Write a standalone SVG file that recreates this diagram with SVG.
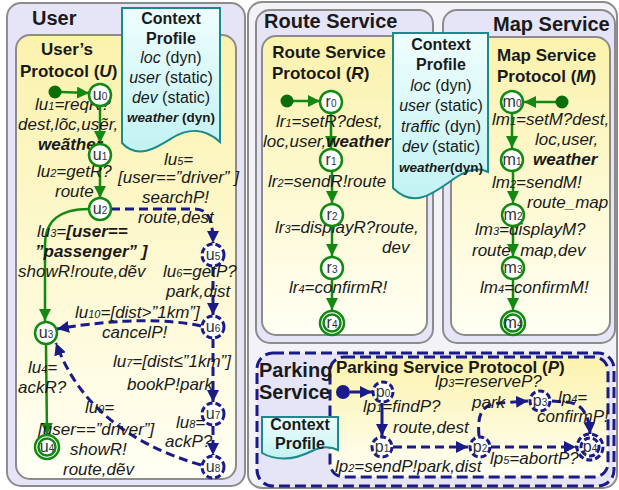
<svg xmlns="http://www.w3.org/2000/svg" width="619" height="490" viewBox="0 0 619 490">
  <defs>
    <linearGradient id="yel" x1="0" y1="0" x2="0" y2="1">
      <stop offset="0" stop-color="#fbf2ac"/>
      <stop offset="1" stop-color="#fffff4"/>
    </linearGradient>
    <linearGradient id="cyan" x1="0" y1="0" x2="0" y2="1">
      <stop offset="0" stop-color="#effefe"/>
      <stop offset="1" stop-color="#c2f2f2"/>
    </linearGradient>
    <marker id="ag" markerUnits="userSpaceOnUse" markerWidth="12" markerHeight="12" refX="12" refY="6" orient="auto">
      <path d="M0,0 L12,6 L0,12 Z" fill="#128a12"/>
    </marker>
    <marker id="ab" markerUnits="userSpaceOnUse" markerWidth="12" markerHeight="12" refX="12" refY="6" orient="auto">
      <path d="M0,0 L12,6 L0,12 Z" fill="#1a1a8a"/>
    </marker>
    <style>
      text { font-family: "Liberation Sans", Arial, sans-serif; fill: #1a1a1a; }
      .title { font-size: 20px; font-weight: bold; }
      .ptitle { font-size: 17px; font-weight: bold; }
      .lbl { font-size: 17px; font-style: italic; }
      .sub { font-size: 11px; }
      .b { font-weight: bold; }
      .cp { font-size: 16px; text-anchor: middle; }
      .cpw { font-size: 13.5px; font-weight: bold; }
      .nt { font-size: 16px; text-anchor: middle; fill: #333; }
      .nt tspan { font-size: 10px; }
      .outer { fill: #e5e5f7; stroke: #8c8c8c; stroke-width: 2; }
      .inner { fill: url(#yel); stroke: #8c8c8c; stroke-width: 2; }
      .doc { fill: url(#cyan); stroke: #1b8a8a; stroke-width: 2; }
      .gn { fill: #fff; stroke: #128a12; stroke-width: 2.5; }
      .bn { fill: #fff; stroke: #1a1a8a; stroke-width: 3; stroke-dasharray: 6 3; }
      .ge { fill: none; stroke: #128a12; stroke-width: 2.5; marker-end: url(#ag); }
      .be { fill: none; stroke: #1a1a8a; stroke-width: 3; stroke-dasharray: 9 5; marker-end: url(#ab); }
      .bs { fill: none; stroke: #1a1a8a; stroke-width: 3; marker-end: url(#ab); }
      .bdash { stroke: #1a1a8a; stroke-width: 3; stroke-dasharray: 11 5; }
    </style>
  </defs>

  <rect width="619" height="490" fill="#ffffff"/>

  <!-- panels -->
  <g id="user-panel">
    <rect class="outer" x="7" y="3" width="238" height="483" rx="14"/>
    <rect class="inner" x="16" y="35" width="220" height="444" rx="14"/>
    <text class="title" x="32" y="25">User</text>
    <text class="ptitle" x="67" y="55" text-anchor="middle">User’s</text>
    <text class="ptitle" x="20" y="77">Protocol  (<tspan font-style="italic">U</tspan>)</text>
  </g>

  <rect x="248" y="2" width="369" height="486" rx="14" fill="#f3f3f7" stroke="#8c8c8c" stroke-width="2"/>

  <g id="route-panel">
    <rect class="outer" x="256" y="10" width="177" height="333" rx="14"/>
    <rect class="inner" x="262" y="36" width="165" height="299" rx="14"/>
    <text class="title" x="264" y="28">Route Service</text>
    <text class="ptitle" x="329" y="58" text-anchor="middle">Route Service</text>
    <text class="ptitle" x="272" y="79">Protocol  (<tspan font-style="italic">R</tspan>)</text>
  </g>

  <g id="map-panel">
    <rect class="outer" x="443" y="10" width="172" height="333" rx="14"/>
    <rect class="inner" x="451" y="37" width="159" height="298" rx="14"/>
    <text class="title" x="493" y="31">Map Service</text>
    <text class="ptitle" x="497" y="61">Map Service</text>
    <text class="ptitle" x="497" y="82">Protocol  (<tspan font-style="italic">M</tspan>)</text>
  </g>

  <g id="parking-panel">
    <rect class="bdash" x="257" y="353" width="357" height="133" rx="16" fill="#e5e5f7"/>
    <rect class="bdash" x="330" y="357" width="278" height="120" rx="14" fill="url(#yel)"/>
    <text class="title" x="259" y="377" font-size="18.5">Parking</text>
    <text class="title" x="259" y="399" font-size="18.5">Service</text>
    <text class="ptitle" x="336" y="373">Parking Service Protocol  (<tspan font-style="italic">P</tspan>)</text>
  </g>

  <!-- context profiles -->
  <g id="user-context">
    <path class="doc" d="M122,8 H220 V142 C205,128 188,128 172,138 C156,148 138,160 122,143 Z"/>
    <text class="cp b" x="171" y="24">Context</text>
    <text class="cp b" x="171" y="44">Profile</text>
    <text class="cp" x="171" y="63"><tspan font-style="italic">loc</tspan> (dyn)</text>
    <text class="cp" x="171" y="83"><tspan font-style="italic">user</tspan> (static)</text>
    <text class="cp" x="171" y="103"><tspan font-style="italic">dev</tspan> (static)</text>
    <text class="cpw" x="171" y="122" text-anchor="middle"><tspan font-style="italic">weather</tspan> (dyn)</text>
  </g>

  <g id="parking-context">
    <path class="doc" d="M262,417 H338 V450 C330,446 322,446 312,451 C298,458 280,463 262,453 Z"/>
    <text class="cp b" x="300" y="430">Context</text>
    <text class="cp b" x="300" y="449">Profile</text>
  </g>

  <!-- connectors -->
  <g id="connectors">
    <!-- user -->
    <path class="ge" d="M61,92 L89,93"/>
    <path class="ge" d="M100,106 L100,143"/>
    <path class="ge" d="M100,166 L100,198"/>
    <path class="ge" d="M89,209 C60,209 45,220 45,245 L45,321"/>
    <path class="ge" d="M46,345 L47,435"/>
    <path class="be" d="M111,209 L195,209 C208,209 213,220 213,243"/>
    <path class="be" d="M213,267 L213,315"/>
    <path class="be" d="M201,326 C170,319 120,318 57,329"/>
    <path class="be" d="M213,339 L213,402"/>
    <path class="be" d="M213,426 L213,455"/>
    <path class="be" d="M201,465 Q88,432 56,343"/>
    <!-- route -->
    <path class="ge" d="M293,101 L320,101"/>
    <path class="ge" d="M331,113 L331,148"/>
    <path class="ge" d="M332,171 L332,203"/>
    <path class="ge" d="M332,227 L332,256"/>
    <path class="ge" d="M332,280 L332,310"/>
    <!-- map -->
    <path class="ge" d="M556,102 L524,102"/>
    <path class="ge" d="M512,114 L512,148"/>
    <path class="ge" d="M513,172 L513,203"/>
    <path class="ge" d="M513,227 L513,256"/>
    <path class="ge" d="M513,280 L513,310"/>
    <!-- parking -->
    <path class="bs" d="M350,392 L372,392"/>
    <path class="bs" d="M382,403 L382,436"/>
    <path class="be" d="M393,447 L468,447"/>
    <path class="be" d="M479,436 C477,414 482,404 500,403 L528,401"/>
    <path class="be" d="M552,401 L566,402 C582,403 589,414 590,434"/>
    <path class="be" d="M491,447 L576,447"/>
  </g>

  <!-- labels -->
  <g id="labels">
    <text class="lbl" x="35" y="110">l<tspan>u</tspan><tspan class="sub">1</tspan>=reqR?</text>
    <text class="lbl" x="18" y="130">dest,lõc,usẽr,</text>
    <text class="lbl b" x="38" y="150">weãther</text>
    <text class="lbl" x="37" y="177">lu<tspan class="sub">2</tspan>=getR?</text>
    <text class="lbl" x="55" y="197">route</text>
    <text class="lbl" x="37" y="237">lu<tspan class="sub">3</tspan>=<tspan class="b">[user==</tspan></text>
    <text class="lbl b" x="35" y="257">”passenger” ]</text>
    <text class="lbl" x="18" y="277">showR!route,dẽv</text>
    <text class="lbl" x="164" y="165">lu<tspan class="sub">5</tspan>=</text>
    <text class="lbl" x="118" y="183">[user==”driver” ]</text>
    <text class="lbl" x="142" y="203">searchP!</text>
    <text class="lbl" x="138" y="223">route,dest</text>
    <text class="lbl" x="163" y="277">lu<tspan class="sub">6</tspan>=getP?</text>
    <text class="lbl" x="166" y="297">park,dist</text>
    <text class="lbl" x="75" y="318">lu<tspan class="sub">10</tspan>=[dist&gt;”1km”]</text>
    <text class="lbl" x="102" y="338">cancelP!</text>
    <text class="lbl" x="113" y="367">lu<tspan class="sub">7</tspan>=[dist≤”1km”]</text>
    <text class="lbl" x="127" y="390">bookP!park</text>
    <text class="lbl" x="28" y="373">lu<tspan class="sub">4</tspan>=</text>
    <text class="lbl" x="18" y="393">ackR?</text>
    <text class="lbl" x="85" y="413">lu<tspan class="sub">9</tspan>=</text>
    <text class="lbl" x="38" y="435">[user==”driver”]</text>
    <text class="lbl" x="70" y="455">showR!</text>
    <text class="lbl" x="63" y="475">route,dẽv</text>
    <text class="lbl" x="176" y="428">lu<tspan class="sub">8</tspan>=</text>
    <text class="lbl" x="165" y="447">ackP?</text>

    <text class="lbl" x="276" y="127">lr<tspan class="sub">1</tspan>=setR?dest,</text>
    <text class="lbl" x="263" y="147">loc,user,<tspan class="b">weather</tspan></text>
    <text class="lbl" x="268" y="187">lr<tspan class="sub">2</tspan>=sendR!route</text>
    <text class="lbl" x="275" y="233">lr<tspan class="sub">3</tspan>=displayR?route,</text>
    <text class="lbl" x="382" y="253">dev</text>
    <text class="lbl" x="289" y="293">lr<tspan class="sub">4</tspan>=confirmR!</text>

    <text class="lbl" x="492" y="125">lm<tspan class="sub">1</tspan>=setM?dest,</text>
    <text class="lbl" x="535" y="145">loc,user,</text>
    <text class="lbl b" x="533" y="165">weather</text>
    <text class="lbl" x="492" y="188">lm<tspan class="sub">2</tspan>=sendM!</text>
    <text class="lbl" x="527" y="208">route_map</text>
    <text class="lbl" x="475" y="235">lm<tspan class="sub">3</tspan>=displayM?</text>
    <text class="lbl" x="472" y="256">route_map,dev</text>
    <text class="lbl" x="480" y="293">lm<tspan class="sub">4</tspan>=confirmM!</text>

    <text class="lbl" x="363" y="412">lp<tspan class="sub">1</tspan>=findP?</text>
    <text class="lbl" x="393" y="433">route,dest</text>
    <text class="lbl" x="335" y="472">lp<tspan class="sub">2</tspan>=sendP!park,dist</text>
    <text class="lbl" x="435" y="387">lp<tspan class="sub">3</tspan>=reserveP?</text>
    <text class="lbl" x="472" y="408">park</text>
    <text class="lbl" x="558" y="403">lp<tspan class="sub">4</tspan>=</text>
    <text class="lbl" x="537" y="422">confirmP!</text>
    <text class="lbl" x="490" y="464">lp<tspan class="sub">5</tspan>=abortP?</text>
  </g>

  <!-- route context profile sits over both service panels -->
  <g id="route-context">
    <path class="doc" d="M393,33 H488 V172 C480,168 470,168 455,178 C435,192 415,210 393,188 Z"/>
    <text class="cp b" x="441" y="50">Context</text>
    <text class="cp b" x="441" y="70">Profile</text>
    <text class="cp" x="441" y="91"><tspan font-style="italic">loc</tspan> (dyn)</text>
    <text class="cp" x="441" y="111"><tspan font-style="italic">user</tspan> (static)</text>
    <text class="cp" x="441" y="132"><tspan font-style="italic">traffic</tspan> (dyn)</text>
    <text class="cp" x="441" y="152"><tspan font-style="italic">dev</tspan> (static)</text>
    <text class="cpw" x="441" y="172" text-anchor="middle"><tspan font-style="italic">weather</tspan>(dyn)</text>
  </g>

  <!-- user protocol states -->
  <circle id="u-start" cx="55" cy="92" r="6.5" fill="#0a6e0a"/>
  <g id="u0"><circle class="gn" cx="100" cy="95" r="11"/><text class="nt" x="100" y="100">u<tspan>0</tspan></text></g>
  <g id="u1"><circle class="gn" cx="100" cy="155" r="11"/><text class="nt" x="100" y="160">u<tspan>1</tspan></text></g>
  <g id="u2"><circle class="gn" cx="100" cy="209" r="11"/><text class="nt" x="100" y="214">u<tspan>2</tspan></text></g>
  <g id="u3"><circle class="gn" cx="46" cy="333" r="11"/><text class="nt" x="46" y="338">u<tspan>3</tspan></text></g>
  <g id="u4"><circle class="gn" cx="47" cy="447" r="12"/><circle class="gn" cx="47" cy="447" r="8.5" stroke-width="2"/><text class="nt" x="47" y="452">u<tspan>4</tspan></text></g>
  <g id="u5"><circle class="bn" cx="213" cy="255" r="11"/><text class="nt" x="213" y="260">u<tspan>5</tspan></text></g>
  <g id="u6"><circle class="bn" cx="213" cy="327" r="11"/><text class="nt" x="213" y="332">u<tspan>6</tspan></text></g>
  <g id="u7"><circle class="bn" cx="213" cy="414" r="11"/><text class="nt" x="213" y="419">u<tspan>7</tspan></text></g>
  <g id="u8"><circle class="bn" cx="213" cy="467" r="11"/><text class="nt" x="213" y="472">u<tspan>8</tspan></text></g>

  <!-- route protocol states -->
  <circle id="r-start" cx="287" cy="101" r="6.5" fill="#0a6e0a"/>
  <g id="r0"><circle class="gn" cx="331" cy="102" r="11"/><text class="nt" x="331" y="107">r<tspan>0</tspan></text></g>
  <g id="r1"><circle class="gn" cx="331" cy="160" r="11"/><text class="nt" x="331" y="165">r<tspan>1</tspan></text></g>
  <g id="r2"><circle class="gn" cx="332" cy="215" r="11"/><text class="nt" x="332" y="220">r<tspan>2</tspan></text></g>
  <g id="r3"><circle class="gn" cx="332" cy="268" r="11"/><text class="nt" x="332" y="273">r<tspan>3</tspan></text></g>
  <g id="r4"><circle class="gn" cx="332" cy="323" r="12"/><circle class="gn" cx="332" cy="323" r="8.5" stroke-width="2"/><text class="nt" x="332" y="328">r<tspan>4</tspan></text></g>

  <!-- map protocol states -->
  <circle id="m-start" cx="562" cy="102" r="6.5" fill="#0a6e0a"/>
  <g id="m0"><circle class="gn" cx="512" cy="102" r="11"/><text class="nt" x="512" y="107">m<tspan>0</tspan></text></g>
  <g id="m1"><circle class="gn" cx="512" cy="160" r="11"/><text class="nt" x="512" y="165">m<tspan>1</tspan></text></g>
  <g id="m2"><circle class="gn" cx="513" cy="215" r="11"/><text class="nt" x="513" y="220">m<tspan>2</tspan></text></g>
  <g id="m3"><circle class="gn" cx="513" cy="268" r="11"/><text class="nt" x="513" y="273">m<tspan>3</tspan></text></g>
  <g id="m4"><circle class="gn" cx="513" cy="323" r="12"/><circle class="gn" cx="513" cy="323" r="8.5" stroke-width="2"/><text class="nt" x="513" y="328">m<tspan>4</tspan></text></g>

  <!-- parking protocol states -->
  <circle id="p-start" cx="343" cy="392" r="7" fill="#1a1a8a"/>
  <g id="p0"><circle class="bn" cx="383" cy="392" r="10"/><text class="nt" x="383" y="397">p<tspan>0</tspan></text></g>
  <g id="p1"><circle class="bn" cx="382" cy="447" r="10"/><text class="nt" x="382" y="452">p<tspan>1</tspan></text></g>
  <g id="p2"><circle class="bn" cx="480" cy="447" r="10"/><text class="nt" x="480" y="452">p<tspan>2</tspan></text></g>
  <g id="p3"><circle class="bn" cx="540" cy="401" r="10"/><text class="nt" x="540" y="406">p<tspan>3</tspan></text></g>
  <g id="p4"><circle class="bn" cx="590" cy="447" r="13"/><circle class="bn" cx="590" cy="447" r="9"/><text class="nt" x="590" y="452">p<tspan>4</tspan></text></g>
</svg>
